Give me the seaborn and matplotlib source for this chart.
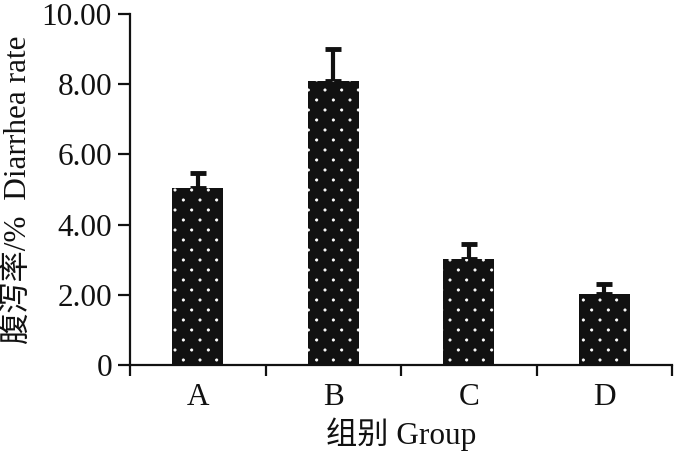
import matplotlib
matplotlib.use("Agg")
import matplotlib.pyplot as plt
import matplotlib.hatch as mhatch
from matplotlib.path import Path
import seaborn as sns
import pandas as pd
import numpy as np
from matplotlib.ticker import FixedLocator

groups = ["A", "B", "C", "D"]
rates = [5.05, 8.10, 3.02, 2.02]
errors = [0.42, 0.90, 0.42, 0.30]
yticks = [0, 2, 4, 6, 8, 10]
ytick_labels = ["0", "2.00", "4.00", "6.00", "8.00", "10.00"]


# staggered small-dot texture (white dots on black bars)
class StaggeredDots(mhatch.HatchPatternBase):
    ncols = 6
    nrows = 10
    radius = 0.011

    def __init__(self, hatch, density):
        self.active = hatch.count(".") > 0
        circ = Path.unit_circle()
        self.shape_vertices = circ.vertices
        self.shape_codes = circ.codes
        if self.active:
            n_even = (self.nrows // 2 + 1) * (self.ncols + 1)
            n_odd = (self.nrows // 2) * self.ncols
            self.num_shapes = n_even + n_odd
            self.num_vertices = self.num_shapes * len(self.shape_vertices)
        else:
            self.num_shapes = 0
            self.num_vertices = 0

    def set_vertices_and_codes(self, vertices, codes):
        sv = self.shape_vertices * self.radius
        vparts, cparts = [], []
        for row in range(self.nrows + 1):
            if row % 2 == 0:
                cols = np.linspace(0, 1, self.ncols + 1)
            else:
                step = 1.0 / self.ncols
                cols = np.linspace(step / 2, 1 - step / 2, self.ncols)
            rp = row / self.nrows
            for cp in cols:
                vparts.append(sv + [cp, rp])
                cparts.append(self.shape_codes)
        np.concatenate(vparts, out=vertices)
        np.concatenate(cparts, out=codes)


mhatch._hatch_types = [t for t in mhatch._hatch_types
                       if t is not mhatch.SmallFilledCircles] + [StaggeredDots]

sns.set_theme(style="ticks")
plt.rcParams["font.family"] = ["Liberation Serif", "Noto Sans CJK SC"]
plt.rcParams["hatch.linewidth"] = 0.6

df = pd.DataFrame({"group": groups, "rate": rates})

fig = plt.figure(figsize=(7.0, 4.54), dpi=100)
ax = fig.add_axes([130/700, 1-365/454, (672-130)/700, (365-14)/454])

sns.barplot(data=df, x="group", y="rate", ax=ax, color="#111111",
            width=0.375, errorbar=None, saturation=1, zorder=2)
for p in ax.patches:
    p.set_facecolor("#111111")
    p.set_edgecolor("white")
    p.set_linewidth(0)
    p.set_hatch(".")

ax.errorbar(np.arange(len(groups)), rates,
            yerr=[np.zeros(len(errors)), errors],
            fmt="none", ecolor="#111111", elinewidth=3.0,
            capsize=6, capthick=3.5, zorder=1)

ax.set_xlim(-0.5, 3.5)
ax.set_ylim(0, 10)
ax.set_yticks(yticks)
ax.set_yticklabels(ytick_labels)
ax.xaxis.set_major_locator(FixedLocator(range(len(groups))))
ax.set_xticklabels(groups)
ax.xaxis.set_minor_locator(FixedLocator([-0.5, 0.5, 1.5, 2.5, 3.5]))
ax.tick_params(axis="x", which="major", length=0, pad=13, labelsize=22.5, colors="#111111")
ax.tick_params(axis="x", which="minor", length=8, width=1.6, direction="out", color="#111111")
ax.tick_params(axis="y", length=9, width=1.6, direction="out", labelsize=22.5, pad=4, colors="#111111")

for s in ["top", "right"]:
    ax.spines[s].set_visible(False)
for s in ["left", "bottom"]:
    ax.spines[s].set_linewidth(1.6)
    ax.spines[s].set_color("#111111")

ax.set_xlabel("组别 Group", fontsize=22.5, labelpad=4, color="#111111")
ax.set_ylabel("腹泻率/%  Diarrhea rate", fontsize=22.5, labelpad=6, color="#111111")

fig.savefig("out.png", dpi=100)
